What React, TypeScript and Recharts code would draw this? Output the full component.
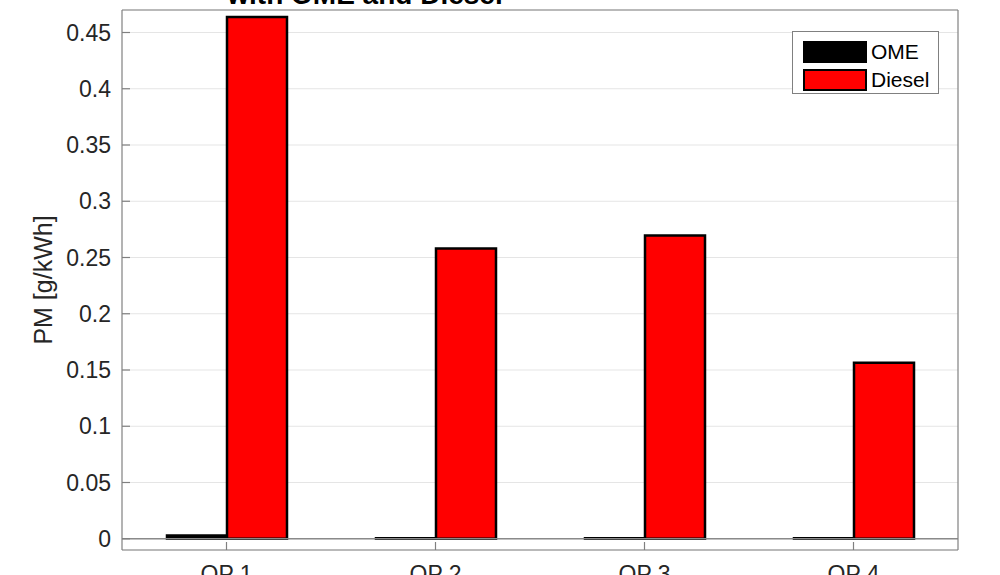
import React from "react";
import {
  Bar,
  BarChart,
  CartesianGrid,
  Legend,
  ReferenceLine,
  XAxis,
  YAxis,
} from "recharts";

const OPERATING_POINTS = ["OP 1", "OP 2", "OP 3", "OP 4"];
const OME_PM = [0.003, 0.0005, 0.0005, 0.0005];
const DIESEL_PM = [0.4638, 0.258, 0.2695, 0.1565];
const Y_TICKS = [0, 0.05, 0.1, 0.15, 0.2, 0.25, 0.3, 0.35, 0.4, 0.45];
const Y_DOMAIN: [number, number] = [-0.01, 0.47];

const SERIES = [
  { key: "ome", name: "OME", color: "#000000" },
  { key: "diesel", name: "Diesel", color: "#ff0000" },
];

const rows = OPERATING_POINTS.map((op, i) => ({
  op,
  ome: OME_PM[i],
  diesel: DIESEL_PM[i],
}));

const FONT = "Arial, 'Liberation Sans', Helvetica, sans-serif";
const TEXT = "#262626";
const FRAME = "#808080";

function LegendBox() {
  return (
    <div
      style={{
        width: 147,
        height: 63,
        boxSizing: "border-box",
        border: `1px solid ${FRAME}`,
        background: "#fff",
        padding: "6px 0 0 10px",
        fontFamily: FONT,
        fontSize: 21,
        color: "#000",
      }}
    >
      {SERIES.map((s) => (
        <div
          key={s.key}
          style={{ display: "flex", alignItems: "center", height: 28 }}
        >
          <span
            style={{
              display: "inline-block",
              width: 64,
              height: 22,
              boxSizing: "border-box",
              background: s.color,
              border: "2px solid #000",
              marginRight: 4,
            }}
          />
          {s.name}
        </div>
      ))}
    </div>
  );
}

export default function App() {
  return (
    <div style={{ position: "absolute", left: 0, top: 0, background: "#fff" }}>
      <BarChart
        width={1000}
        height={575}
        data={rows}
        margin={{ top: 0, right: 0, bottom: 0, left: 0 }}
        barGap={0}
        barSize={60}
      >
        <CartesianGrid
          horizontal
          vertical={false}
          stroke="#e5e5e5"
          strokeWidth={1.2}
        />
        <XAxis
          dataKey="op"
          type="category"
          height={25}
          padding={{ left: 0, right: 0 }}
          axisLine={{ stroke: FRAME, strokeWidth: 1.2 }}
          tickLine={{ stroke: FRAME, strokeWidth: 1.2 }}
          tickSize={-8}
          tickMargin={24}
          tick={{ fill: TEXT, fontSize: 23, fontFamily: FONT }}
          interval={0}
        />
        <XAxis
          xAxisId="top"
          dataKey="op"
          type="category"
          orientation="top"
          height={10}
          axisLine={{ stroke: FRAME, strokeWidth: 1.2 }}
          tickLine={{ stroke: FRAME, strokeWidth: 1.2 }}
          tickSize={-8}
          tick={false}
          interval={0}
          label={{
            value: "with OME and Diesel",
            position: "top",
            offset: -3.5,
            dx: -175,
            style: {
              fill: "#000",
              fontSize: 28,
              fontWeight: 700,
              fontFamily: FONT,
            },
          }}
        />
        <YAxis
          type="number"
          width={122}
          domain={Y_DOMAIN}
          ticks={Y_TICKS}
          allowDataOverflow
          axisLine={{ stroke: FRAME, strokeWidth: 1.2 }}
          tickLine={{ stroke: FRAME, strokeWidth: 1.2 }}
          tickSize={-8}
          tickMargin={19}
          tick={{ fill: TEXT, fontSize: 23, fontFamily: FONT }}
          label={{
            value: "PM [g/kWh]",
            angle: -90,
            position: "center",
            dx: -18,
            style: { fill: TEXT, fontSize: 25, fontFamily: FONT },
          }}
        />
        <YAxis
          yAxisId="right"
          orientation="right"
          type="number"
          width={42}
          domain={Y_DOMAIN}
          ticks={Y_TICKS}
          allowDataOverflow
          axisLine={{ stroke: FRAME, strokeWidth: 1.2 }}
          tickLine={{ stroke: FRAME, strokeWidth: 1.2 }}
          tickSize={-8}
          tick={false}
        />
        <ReferenceLine y={0} stroke="#8a8a8a" strokeWidth={1.5} />
        {SERIES.map((s) => (
          <Bar
            key={s.key}
            dataKey={s.key}
            name={s.name}
            fill={s.color}
            stroke="#000"
            strokeWidth={2.5}
            isAnimationActive={false}
          />
        ))}
        {/* vertical layout + centered keeps the legend out of the plot offset */}
        <Legend
          layout="vertical"
          verticalAlign="middle"
          align="center"
          content={() => <LegendBox />}
          wrapperStyle={{ top: 31, left: 792, width: 147 }}
        />
      </BarChart>
    </div>
  );
}
